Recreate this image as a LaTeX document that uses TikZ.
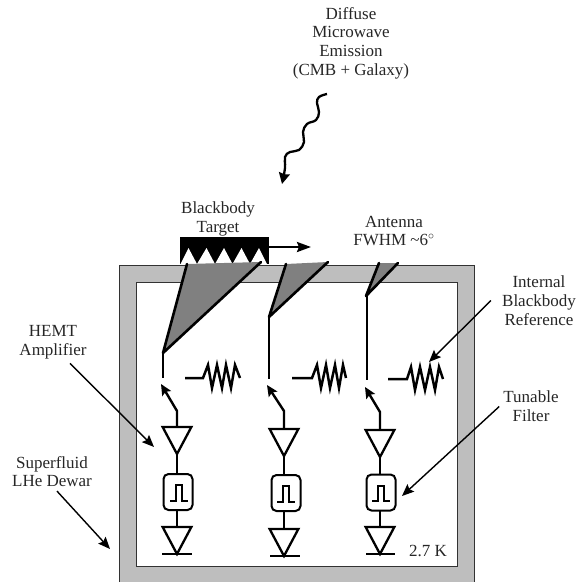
\documentclass[tikz,border=0pt]{standalone}
\usepackage{fontspec}
\setmainfont{Liberation Serif}
\usetikzlibrary{arrows.meta,shapes.geometric}
\tikzset{
    dewarwall/.style={fill={rgb,255:red,190; green,190; blue,190}},
    dewaredge/.style={line width=1pt,color={rgb,255:red,50; green,50; blue,50}},
    hornbody/.style={fill={rgb,255:red,128; green,128; blue,128}},
    hornedge/.style={line width=2.6pt,line cap=round,line join=round},
    wire/.style={line width=2pt},
    switcharm/.style={line width=2.4pt,line join=round,-{Stealth[length=11pt,width=10pt,inset=2pt]}},
    resistor/.style={line width=2.5pt,line join=miter},
    ampbox/.style={draw,line width=2.3pt,isosceles triangle,isosceles triangle apex angle=56,shape border rotate=-90,inner sep=0pt,outer sep=0pt,minimum height=27pt,minimum width=27pt},
    filterbox/.style={draw,line width=2pt,rectangle,rounded corners=5pt,inner sep=0pt,outer sep=0pt,minimum width=29pt,minimum height=36pt},
    pulseline/.style={line width=1.3pt},
    callout/.style={line width=1.4pt,-{Stealth[length=12pt,width=10pt,inset=2pt]}},
    lbl/.style={align=center,inner sep=0pt,font=\fontsize{17}{18.7}\selectfont,text=black!85}
}
\begin{document}
\begin{tikzpicture}[x=1pt,y=-1pt]
    \useasboundingbox (0,0) rectangle (577,582);

    \fill[dewarwall] (119,265) rectangle (474,582);
    \draw[dewaredge] (119,582) -- (119,265) -- (474,265) -- (474,582);
    \draw[dewaredge,fill=white] (136,282) rectangle (457,566);

    \fill (180,237) rectangle (269,264);
    \fill[white] (180.5,264) -- (188.5,248) -- (197,264) -- (206.5,248) -- (215,264) -- (224,248) -- (232.5,264) -- (241.5,248) -- (250,264) -- (259,248) -- (267,264);
    \coordinate (targetend) at (311,247);
    \draw[line width=2.4pt,-{Stealth[length=14pt,width=10pt,inset=2pt]}] (269,247) -- (targetend);

    \coordinate (skystart) at (327,94);
    \coordinate (skytip) at (282,184);
    \draw[line width=2.3pt,-{Stealth[length=11pt,width=11pt,inset=1pt]}] plot[smooth,tension=0.7] coordinates {(skystart) (319,97) (317,103) (319,112) (316,120) (307,124) (303,132) (304,142) (299,150) (290,152) (285,157) (285,168) (skytip)};

    %#1
    \fill[hornbody] (163,353) -- (187,264) -- (261,262) -- cycle;
    \draw[hornedge] (187,264) -- (163,353) -- (261,262);
    \coordinate (feed1) at (163,353);
    \coordinate (feedend1) at (163,378);
    \draw[wire] (feed1) -- (feedend1);
    \draw[resistor] (185,378) -- (203,378) -- (208,365) -- (212,388) -- (217,365) -- (222,388) -- (226,365) -- (231,388) -- (235,365) -- (240,378);
    \node[ampbox,anchor=apex] (amp1) at (177,454) {};
    \node[filterbox] (filt1) at (178,492) {};
    \node[ampbox,anchor=apex] (low1) at (177,554) {};
    \coordinate (pivot1) at (177,411);
    \coordinate (swtip1) at (161,384);
    \draw[switcharm] (amp1.lower side) -- (pivot1) -- (swtip1);
    \draw[wire] (amp1.apex) -- (amp1.apex |- filt1.north);
    \draw[wire] (low1.lower side |- filt1.south) -- (low1.lower side);
    \draw[pulseline] (170,501) -- (176,501) -- (176,485) -- (182,485) -- (182,501) -- (188,501);
    \draw[line width=2.6pt] (162,554) -- (192,554);

    %#2
    \fill[hornbody] (269,317) -- (286,264) -- (328,262) -- cycle;
    \draw[hornedge] (286,264) -- (269,317) -- (328,262);
    \coordinate (feed2) at (269,317);
    \coordinate (feedend2) at (269,379);
    \draw[wire] (feed2) -- (feedend2);
    \draw[resistor] (292,378) -- (312,378) -- (317,365) -- (321,388) -- (326,365) -- (330,388) -- (335,365) -- (339,388) -- (343,365) -- (346,378);
    \node[ampbox,anchor=apex] (amp2) at (284,456) {};
    \node[filterbox] (filt2) at (286,493) {};
    \node[ampbox,anchor=apex] (low2) at (284,556) {};
    \coordinate (pivot2) at (284,411);
    \coordinate (swtip2) at (267,385);
    \draw[switcharm] (amp2.lower side) -- (pivot2) -- (swtip2);
    \draw[wire] (amp2.apex) -- (amp2.apex |- filt2.north);
    \draw[wire] (low2.lower side |- filt2.south) -- (low2.lower side);
    \draw[pulseline] (277,502) -- (283,502) -- (283,486) -- (289,486) -- (289,502) -- (295,502);
    \draw[line width=2.6pt] (270,556) -- (300,556);

    %#3
    \fill[hornbody] (366,296) -- (379,263) -- (398,263) -- cycle;
    \draw[hornedge] (379,263) -- (366,296) -- (398,263);
    \coordinate (feed3) at (367,296);
    \coordinate (feedend3) at (367,380);
    \draw[wire] (feed3) -- (feedend3);
    \draw[resistor] (388,379) -- (407,379) -- (411,367) -- (415,390) -- (420,367) -- (425,390) -- (430,367) -- (435,390) -- (439,367) -- (443,379);
    \node[ampbox,anchor=apex] (amp3) at (380,457) {};
    \node[filterbox] (filt3) at (381,492.5) {};
    \node[ampbox,anchor=apex] (low3) at (380,554) {};
    \coordinate (pivot3) at (380,412);
    \coordinate (swtip3) at (365,387);
    \draw[switcharm] (amp3.lower side) -- (pivot3) -- (swtip3);
    \draw[wire] (amp3.apex) -- (amp3.apex |- filt3.north);
    \draw[wire] (low3.lower side |- filt3.south) -- (low3.lower side);
    \draw[pulseline] (372,501) -- (378,501) -- (378,486) -- (384,486) -- (384,501) -- (390,501);
    \draw[line width=2.6pt] (366,554) -- (395,554);

    %labels
    \node[lbl] (lblsky) at (351,43) {Diffuse\\Microwave\\Emission\\(CMB + Galaxy)};
    \node[lbl] (lbltarget) at (218,219) {Blackbody\\Target};
    \node[lbl] (lblantenna) at (394,231) {Antenna\\FWHM \textasciitilde 6$^\circ$};
    \node[lbl] (lblref) at (539,300.5) {Internal\\Blackbody\\Reference};
    \node[lbl] (lblhemt) at (53,342.5) {HEMT\\Amplifier};
    \node[lbl] (lbltunable) at (531,406.5) {Tunable\\Filter};
    \node[lbl] (lbldewar) at (52,471.5) {Superfluid\\LHe Dewar};
    \node[lbl] (lbltemp) at (428,551) {2.7 K};

    \coordinate (hemttip) at (154,447);
    \coordinate (dewartip) at (110,549);
    \coordinate (reftip) at (429,362);
    \coordinate (tunabletip) at (402,496);
    \draw[callout] ([xshift=17pt,yshift=-4pt]lblhemt.south) -- (hemttip);
    \draw[callout] ([xshift=5pt,yshift=-4pt]lbldewar.south) -- (dewartip);
    \draw[callout] ([xshift=-11pt]lblref.west) -- (reftip);
    \draw[callout] ([xshift=-4pt]lbltunable.west) -- (tunabletip);
\end{tikzpicture}
\end{document}
